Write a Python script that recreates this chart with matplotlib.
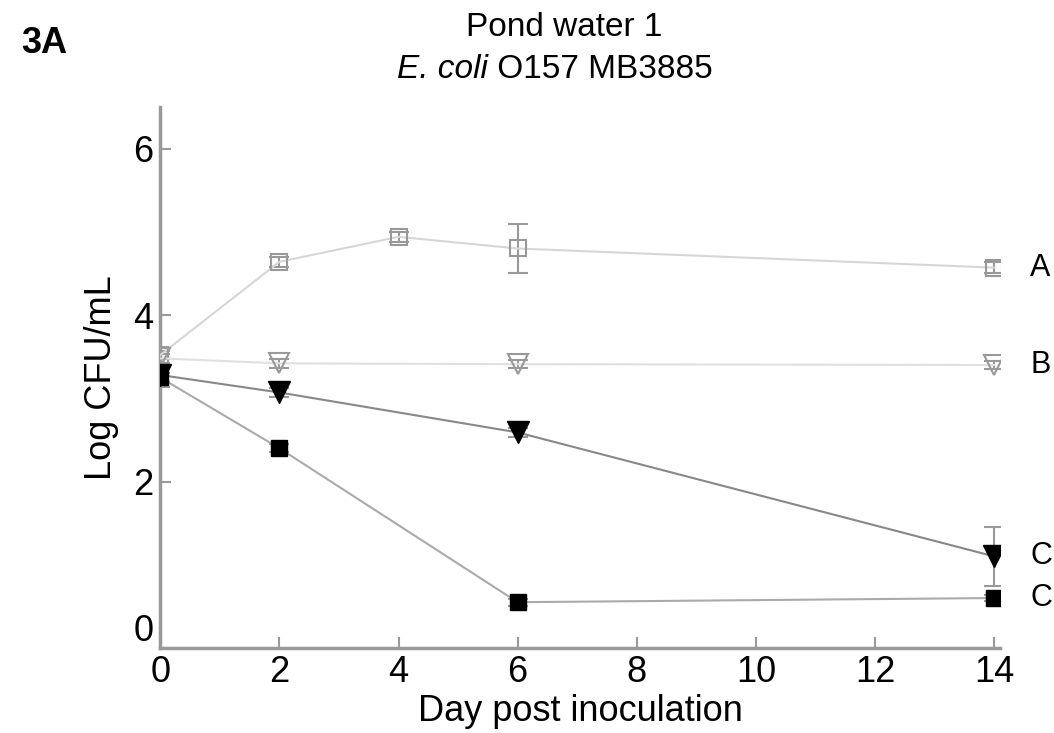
import numpy as np
import matplotlib.pyplot as plt
import matplotlib.transforms as mtransforms

plt.rcParams['font.family'] = ['Liberation Sans', 'DejaVu Sans']

# Tiempos de muestreo (días)
dias = [0, 2, 4, 6, 14]
dias_b = [0, 2, 6, 14]

# Log CFU/mL por tratamiento
serie_a = [3.52, 4.64, 4.94, 4.80, 4.57]
err_a = [0.05, 0.06, 0.06, 0.30, 0.07]
serie_b = [3.48, 3.42, 3.41, 3.40]
err_b = [0.05, 0.05, 0.05, 0.05]
serie_c = [3.28, 3.07, 2.59, 1.10]
err_c = [0.14, 0.05, 0.05, 0.35]
serie_d = [3.25, 2.40, 0.55, 0.60]
err_d = [0.05, 0.05, 0.04, 0.04]

etiquetas = ['A', 'B', 'C', 'C']
valores_fin = [serie_a[-1], serie_b[-1], serie_c[-1], serie_d[-1]]

fig = plt.figure(figsize=(10.54, 7.33), dpi=100)
ax = fig.add_axes([0.152, 0.116, 0.797, 0.738])

gris = '#999999'

ax.errorbar(dias, serie_a, yerr=err_a, color='#d6d6d6', lw=1.5,
            marker='s', ms=11, mfc='none', mec=gris, mew=1.5,
            ecolor=gris, elinewidth=1.5, capsize=7, capthick=1.5, zorder=3)
ax.errorbar(dias_b, serie_b, yerr=err_b, color='#e0e0e0', lw=1.5,
            marker='v', ms=15, mfc='none', mec=gris, mew=1.5,
            ecolor=gris, elinewidth=1.5, capsize=7, capthick=1.5, zorder=3)
ax.errorbar(dias_b, serie_c, yerr=err_c, color='#888888', lw=1.5,
            marker='v', ms=16, mfc='black', mec='black',
            ecolor=gris, elinewidth=1.5, capsize=7, capthick=1.5, zorder=4)
ax.errorbar(dias_b, serie_d, yerr=err_d, color='#aaaaaa', lw=1.5,
            marker='s', ms=11, mfc='black', mec='black',
            ecolor=gris, elinewidth=1.5, capsize=7, capthick=1.5, zorder=4)

for etq, v in zip(etiquetas, valores_fin):
    ax.text(14.6, v, etq, fontsize=22, va='center', ha='left', clip_on=False)

ax.set_xlim(0, 14.1)
ax.set_ylim(0, 6.5)
ax.set_xticks([0, 2, 4, 6, 8, 10, 12, 14])
ax.set_yticks([0, 2, 4, 6])
ax.spines['top'].set_visible(False)
ax.spines['right'].set_visible(False)
for s in ['left', 'bottom']:
    ax.spines[s].set_color(gris)
    ax.spines[s].set_linewidth(2.5)
ax.tick_params(direction='in', length=8, width=1.5, color=gris,
               labelsize=26, pad=5)
ax.set_xlabel('Day post inoculation', fontsize=26, labelpad=3)
ax.set_ylabel('Log CFU/mL', fontsize=26, labelpad=10)

# el 0 del eje y un poco más arriba para no pisar el del eje x
fig.canvas.draw()
lbl0 = ax.get_yticklabels()[0]
lbl0.set_transform(lbl0.get_transform() +
                   mtransforms.ScaledTranslation(0, 0.2, fig.dpi_scale_trans))

# títulos
fig.text(0.535, 0.962, 'Pond water 1', fontsize=24, ha='center', va='center')
fig.text(0.463, 0.905, 'E. coli', fontsize=24, style='italic',
         ha='right', va='center')
fig.text(0.463, 0.905, ' O157 MB3885', fontsize=24, ha='left', va='center')
fig.text(0.02, 0.94, '3A', fontsize=26, fontweight='bold', va='center')

fig.savefig('out.png', dpi=100)
